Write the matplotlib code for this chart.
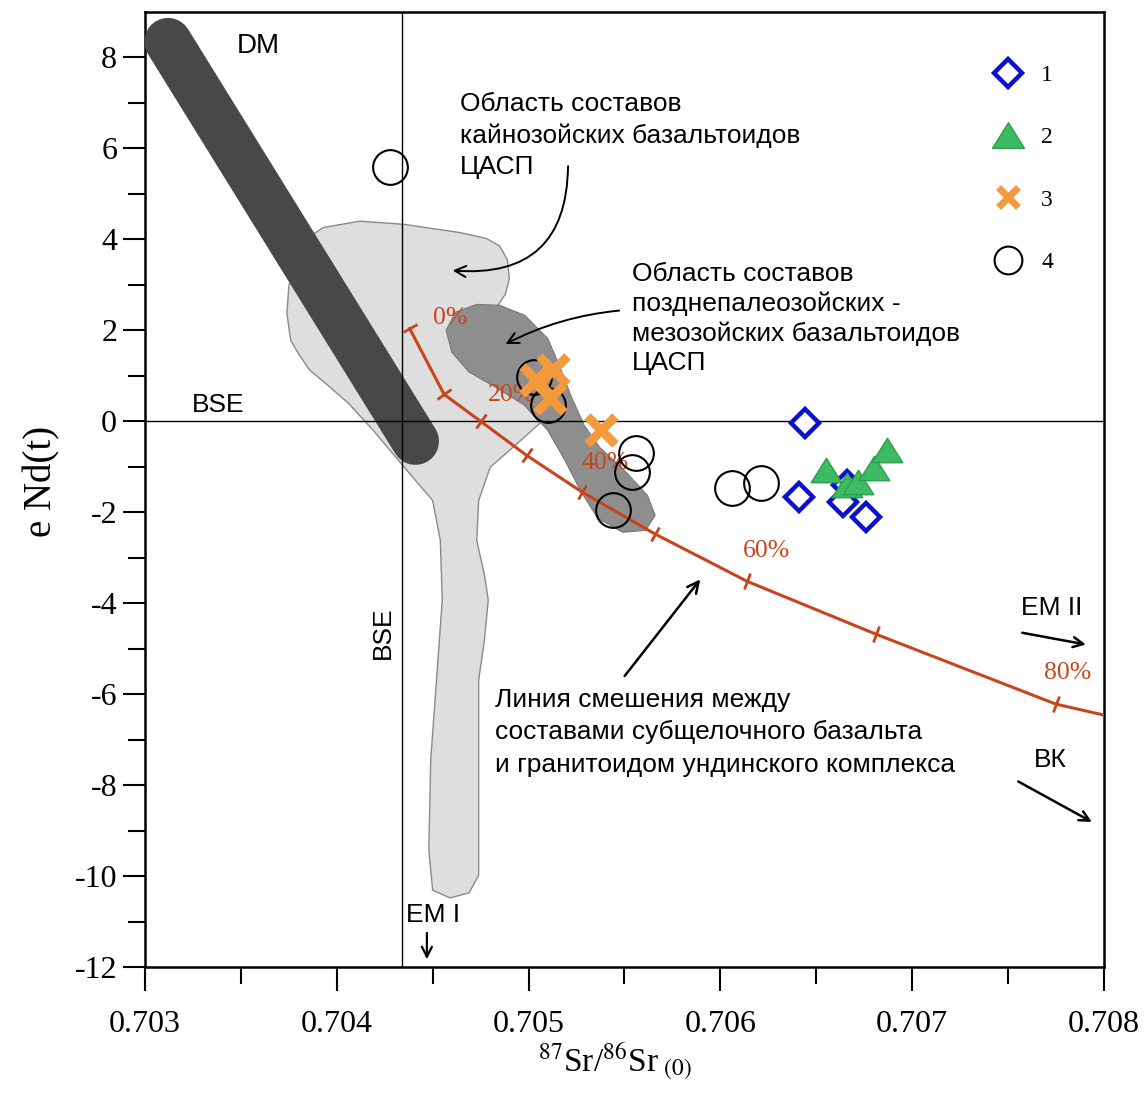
import numpy as np
import matplotlib
matplotlib.use("Agg")
import matplotlib.pyplot as plt
from matplotlib.lines import Line2D
from matplotlib.markers import MarkerStyle
from matplotlib.patches import Polygon
from matplotlib.path import Path
from matplotlib.transforms import Affine2D

# --- sample groups (87Sr/86Sr, eNd) ---
sr_1 = [0.70644, 0.70641, 0.70666, 0.70664, 0.70676]
nd_1 = [-0.04, -1.67, -1.41, -1.78, -2.11]

sr_2 = [0.70655, 0.70666, 0.70672, 0.70680, 0.70687]
nd_2 = [-1.08, -1.41, -1.34, -1.03, -0.64]

sr_3 = [0.70504, 0.70513, 0.70511, 0.70538]
nd_3 = [0.90, 1.12, 0.51, -0.20]

sr_4 = [0.70428, 0.70503, 0.70510, 0.70556, 0.70554, 0.70544, 0.70606, 0.70621]
nd_4 = [5.58, 0.97, 0.35, -0.70, -1.12, -1.96, -1.47, -1.36]

# --- mixing line basalt - granitoid, ticks every 10 % ---
mix_pct = [0, 10, 20, 30, 40, 50, 60, 70, 80]
mix_sr = [0.70438, 0.70456, 0.70475, 0.70499, 0.70528, 0.70566, 0.70614, 0.70681, 0.70775]
mix_nd = [2.04, 0.59, 0.00, -0.75, -1.56, -2.48, -3.52, -4.68, -6.22]
mix_tail_sr = [0.70800]
mix_tail_nd = [-6.46]
pct_labels = ["0%", "20%", "40%", "60%", "80%"]
pct_label_sr = [0.70459, 0.70491, 0.70540, 0.70624, 0.70781]
pct_label_nd = [2.26, 0.57, -0.92, -2.86, -5.54]

# --- DM trend ---
dm_sr = [0.70312, 0.70441]
dm_nd = [8.35, -0.44]

# --- BSE reference ---
bse_sr = 0.70434
bse_nd = 0.0

# --- field: Cenozoic basaltoids (light) ---
ceno_sr = [0.70393, 0.70412, 0.70435, 0.70464, 0.70478, 0.70485, 0.70489, 0.70490,
           0.70488, 0.70484, 0.70480, 0.70485, 0.70496, 0.70506, 0.70493, 0.70480,
           0.70474, 0.70473, 0.70477, 0.70479, 0.70477, 0.70474, 0.70474, 0.70474,
           0.70474, 0.70469, 0.70459, 0.70450, 0.70448, 0.70449, 0.70452, 0.70455,
           0.70454, 0.70450, 0.70441, 0.70430, 0.70419, 0.70406, 0.70394, 0.70386,
           0.70380, 0.70376, 0.70374, 0.70375, 0.70377, 0.70385]
ceno_nd = [4.26, 4.40, 4.33, 4.15, 4.02, 3.85, 3.55, 3.15,
           2.80, 2.55, 2.00, 1.12, 0.46, -0.04, -0.53, -1.01,
           -1.74, -2.62, -3.38, -3.93, -4.81, -5.69, -7.45, -9.21,
           -9.98, -10.37, -10.48, -10.31, -9.43, -7.45, -5.69, -3.93,
           -2.62, -1.74, -1.30, -0.75, -0.20, 0.40, 0.84, 1.12,
           1.49, 1.78, 2.37, 2.96, 3.37, 4.04]

# --- field: Late Paleozoic - Mesozoic basaltoids (dark) ---
meso_sr = [0.70473, 0.70462, 0.70457, 0.70460, 0.70469, 0.70482, 0.70498, 0.70510,
           0.70519, 0.70527, 0.70536, 0.70549, 0.70561, 0.70566, 0.70562, 0.70550,
           0.70537, 0.70529, 0.70522, 0.70516, 0.70510, 0.70498, 0.70485]
meso_nd = [2.57, 2.40, 2.00, 1.52, 1.08, 0.77, 0.35, -0.20,
           -0.86, -1.52, -2.13, -2.44, -2.40, -2.07, -1.63, -1.08,
           -0.57, -0.09, 0.57, 1.23, 1.82, 2.33, 2.55]

x_ticks = [0.703, 0.704, 0.705, 0.706, 0.707, 0.708]
x_ticklabels = ["0.703", "0.704", "0.705", "0.706", "0.707", "0.708"]
y_ticks = [-12, -10, -8, -6, -4, -2, 0, 2, 4, 6, 8]
y_ticklabels = ["-12", "-10", "-8", "-6", "-4", "-2", "0", "2", "4", "6", "8"]

RED = "#c8451b"
BLUE = "#0a10cc"
GREEN = "#3dbb63"
ORANGE = "#f39a3c"
SANS = "Liberation Sans"
SERIF = "Liberation Serif"

plt.rcParams["mathtext.fontset"] = "stix"

fig = plt.figure(figsize=(11.44, 10.97), dpi=100)
ax = fig.add_axes([0.1267, 0.1185, 0.8383, 0.8706])
ax.set_xlim(0.703, 0.708)
ax.set_ylim(-12, 9)

# fields
ax.add_patch(Polygon(np.column_stack([ceno_sr, ceno_nd]), closed=True,
                     facecolor="#dedede", edgecolor="#8a8a8a", lw=1.0, zorder=1))
ax.add_patch(Polygon(np.column_stack([meso_sr, meso_nd]), closed=True,
                     facecolor="#8e8e8e", edgecolor="#777777", lw=0.8, zorder=2))

# DM band
ax.plot(dm_sr, dm_nd, color="#484848", lw=34, solid_capstyle="round", zorder=3)

# BSE lines
ax.axvline(bse_sr, color="black", lw=1.0, zorder=4)
ax.axhline(bse_nd, color="black", lw=1.0, zorder=4)

# mixing line
ax.plot(mix_sr + mix_tail_sr, mix_nd + mix_tail_nd, color=RED, lw=2.2, zorder=5)
pts = ax.transData.transform(np.column_stack([mix_sr, mix_nd]))
for i in range(len(mix_sr)):
    a = pts[max(i - 1, 0)]
    b = pts[min(i + 1, len(pts) - 1)]
    ang = np.degrees(np.arctan2(b[1] - a[1], b[0] - a[0]))
    m = MarkerStyle("|", transform=Affine2D().rotate_deg(ang))
    ax.plot(mix_sr[i], mix_nd[i], marker=m, ms=12, mew=2.0, color=RED, zorder=5)
for lab, x, y in zip(pct_labels, pct_label_sr, pct_label_nd):
    ax.text(x, y, lab, color=RED, fontsize=18.5, family=SERIF, ha="center",
            va="center", zorder=6)

# samples
tri = Path([(0, 0.8), (-1, -0.8), (1, -0.8), (0, 0.8)], closed=True)
ax.plot(sr_4, nd_4, ls="none", marker="o", ms=25, mfc="none", mec="black",
        mew=1.5, zorder=7)
ax.plot(sr_1, nd_1, ls="none", marker="D", ms=14, mfc="white", mec=BLUE,
        mew=3.2, zorder=8)
ax.plot(sr_2, nd_2, ls="none", marker=tri, ms=22, mfc=GREEN, mec="#2f9e50",
        mew=1.0, zorder=9)
ax.plot(sr_3, nd_3, ls="none", marker="x", ms=20, mec=ORANGE, mew=6.5, zorder=10)

# labels
ax.text(0.70359, 8.25, "DM", fontsize=20, family=SANS, ha="center", va="center")
ax.text(0.70338, 0.35, "BSE", fontsize=19, family=SANS, ha="center", va="center")
ax.text(0.70424, -4.64, "BSE", fontsize=19, family=SANS, ha="center",
        va="center", rotation=90)
ax.text(0.70450, -10.86, "EM I", fontsize=19, family=SANS, ha="center", va="center")
ax.annotate("", xy=(0.70447, -11.89), xytext=(0.70447, -11.19),
            arrowprops=dict(arrowstyle="->", lw=1.6, color="black", mutation_scale=18))
ax.text(0.70773, -4.11, "EM II", fontsize=19, family=SANS, ha="center", va="center")
ax.annotate("", xy=(0.70792, -4.92), xytext=(0.70756, -4.64),
            arrowprops=dict(arrowstyle="->", lw=1.8, color="black", mutation_scale=18))
ax.text(0.70772, -7.45, "ВК", fontsize=19, family=SANS, ha="center", va="center")
ax.annotate("", xy=(0.70795, -8.84), xytext=(0.70754, -7.89),
            arrowprops=dict(arrowstyle="->", lw=1.8, color="black", mutation_scale=18))

ax.text(0.704642, 7.23, "Область составов\nкайнозойских базальтоидов\nЦАСП",
        fontsize=19, family=SANS, ha="left", va="top", linespacing=1.36)
ax.annotate("", xy=(0.70459, 3.32), xytext=(0.705206, 5.67),
            arrowprops=dict(arrowstyle="->", lw=1.4, color="black", mutation_scale=20,
                            connectionstyle="angle3,angleA=90,angleB=-5"))

ax.text(0.705539, 3.50, "Область составов\nпозднепалеозойских -\nмезозойских базальтоидов\nЦАСП",
        fontsize=19, family=SANS, ha="left", va="top", linespacing=1.28)
ax.annotate("", xy=(0.704867, 1.67), xytext=(0.705487, 2.44),
            arrowprops=dict(arrowstyle="->", lw=1.4, color="black", mutation_scale=20,
                            connectionstyle="arc3,rad=0.1"))

ax.text(0.704825, -5.86,
        "Линия смешения между\nсоставами субщелочного базальта\nи гранитоидом ундинского комплекса",
        fontsize=19, family=SANS, ha="left", va="top", linespacing=1.45)
ax.annotate("", xy=(0.705904, -3.43), xytext=(0.705492, -5.65),
            arrowprops=dict(arrowstyle="->", lw=1.8, color="black", mutation_scale=20))

# legend
handles = [
    Line2D([], [], ls="none", marker="D", ms=14, mfc="white", mec=BLUE, mew=3.2),
    Line2D([], [], ls="none", marker=tri, ms=23, mfc=GREEN, mec="#2f9e50", mew=1.0),
    Line2D([], [], ls="none", marker="x", ms=15, mec=ORANGE, mew=5),
    Line2D([], [], ls="none", marker="o", ms=20, mfc="none", mec="black", mew=1.5),
]
ax.legend(handles, ["1", "2", "3", "4"], loc="upper left", bbox_to_anchor=(0.873, 0.957),
          frameon=False, handlelength=1.2, handletextpad=0.8, labelspacing=1.72,
          borderpad=0, prop={"family": SERIF, "size": 17})

# axes styling
for s in ax.spines.values():
    s.set_linewidth(1.8)
ax.set_xticks(x_ticks)
ax.set_xticklabels(x_ticklabels)
ax.set_xticks(np.arange(0.7035, 0.708, 0.001), minor=True)
ax.set_yticks(y_ticks)
ax.set_yticklabels(y_ticklabels)
ax.set_yticks(np.arange(-11, 9, 2), minor=True)
ax.tick_params(which="both", direction="out", width=1.5, top=False, right=False)
ax.tick_params(axis="x", which="major", length=17, pad=14)
ax.tick_params(axis="x", which="minor", length=12)
ax.tick_params(axis="y", which="major", length=16, pad=4)
ax.tick_params(axis="y", which="minor", length=12)
for lab in ax.get_xticklabels() + ax.get_yticklabels():
    lab.set_fontfamily(SERIF)
    lab.set_fontsize(23)

ax.set_xlabel(r"$^{87}$Sr/$^{86}$Sr$_{\ (0)}$", fontsize=24, family=SERIF, va="center")
ax.xaxis.set_label_coords(0.49, -0.1)
ax.set_ylabel("e Nd(t)", fontsize=28, family=SERIF, va="center")
ax.yaxis.set_label_coords(-0.107, 0.508)

fig.savefig("out.png", dpi=100)
